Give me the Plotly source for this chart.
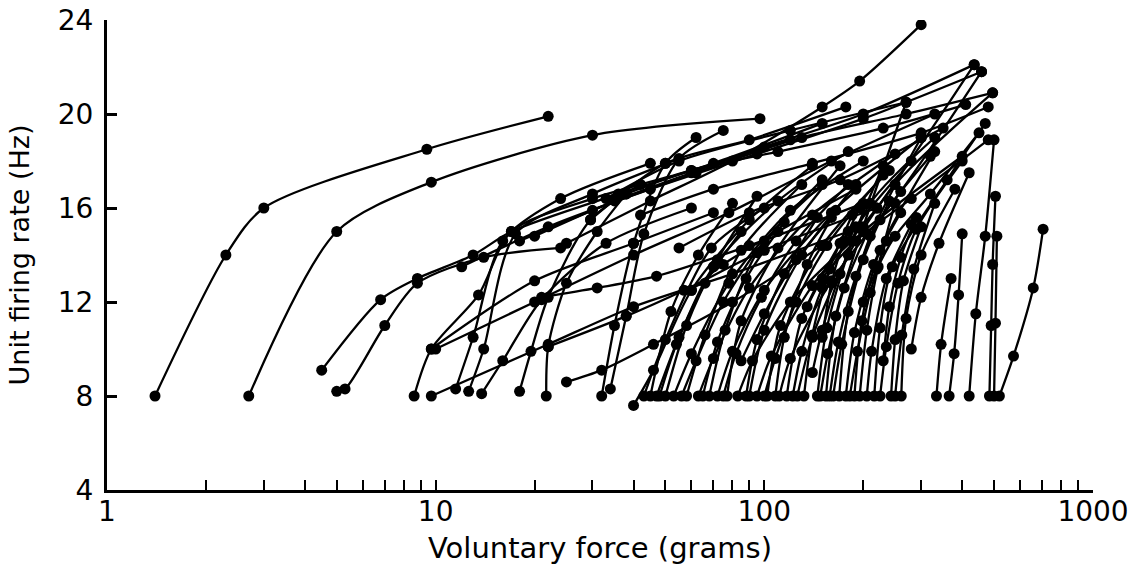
import plotly.graph_objects as go

# Each motor unit: voluntary force (g) and firing rate (Hz) at recruitment and during increasing force
left_units_force = [
    [1.4, 2.3, 3.0, 9.4, 22],
    [2.7, 5.0, 9.7, 30, 97],
    [4.5, 6.8, 8.8, 13, 17, 36, 70, 150],
    [5.0, 5.3, 7.0, 8.8, 14, 24],
    [8.6, 9.7, 13.5, 17, 30, 60, 120],
    [9.7, 22, 40, 80, 180],
    [9.7, 20, 40, 70],
    [11.5, 13, 16, 24, 45],
    [12.6, 14, 17.5, 30, 55],
    [13.8, 16, 21, 33, 60],
    [18, 19.5, 22, 29.6, 42],
    [21.7, 22, 25, 31, 38],
    [25, 32, 46, 80, 150],
    [22, 38, 57, 100, 220],
    [21, 31, 47, 90, 200],
]
left_units_rate = [
    [8, 14, 16, 18.5, 19.9],
    [8, 15, 17.1, 19.1, 19.8],
    [9.1, 12.1, 13.0, 14.0, 15.0, 16.6, 17.9, 19.6],
    [8.2, 8.3, 11.0, 12.8, 13.9, 14.3],
    [8.0, 10.0, 12.3, 15.0, 16.4, 17.6, 18.9],
    [8.0, 10.2, 11.8, 13.2, 15.0],
    [10.0, 12.9, 14.5, 15.8],
    [8.3, 10.5, 14.6, 16.4, 17.9],
    [8.2, 10.0, 14.9, 16.6, 18.1],
    [8.1, 9.5, 12.1, 14.5, 16.0],
    [8.2, 9.9, 12.2, 15.5, 17.0],
    [8.0, 10.1, 12.8, 15.0, 16.6],
    [8.6, 9.1, 10.2, 12.0, 14.4],
    [10.1, 11.4, 12.5, 14.2, 16.0],
    [12.2, 12.6, 13.1, 14.4, 16.2],
]

upper_units_force = [
    [25, 45, 80, 150, 195, 300],
    [20, 35, 60, 100, 200, 435],
    [33, 55, 120, 270],
    [12, 22, 45, 95, 200, 458],
    [18, 30, 62, 130, 270, 495],
    [10, 20, 40, 78, 160, 330],
    [29.6, 50, 90, 177],
    [38, 60, 110, 230, 410],
    [42, 70, 140, 300, 480],
    [55, 90, 170, 350],
]
upper_units_rate = [
    [14.5, 16.3, 18.0, 20.3, 21.4, 23.8],
    [14.8, 16.3, 17.5, 18.6, 20.0, 22.1],
    [16.4, 18.0, 19.3, 20.5],
    [13.5, 15.2, 16.8, 18.3, 19.8, 21.8],
    [14.6, 15.9, 17.5, 19.0, 20.0, 20.9],
    [10.0, 12.0, 14.0, 15.8, 18.0, 20.0],
    [15.5, 17.9, 18.9, 20.3],
    [16.6, 17.6, 18.4, 19.4, 20.4],
    [15.7, 16.8, 17.9, 19.2, 20.3],
    [14.3, 15.8, 17.2, 19.4],
]

middle_units_force = [
    [32, 35, 40, 50, 62],
    [34, 38, 43, 55, 75],
    [40, 46, 60, 90, 140],
    [43, 50, 69, 100],
    [45, 52, 63, 80],
    [47, 55, 70, 110, 180],
    [50, 58, 72, 95],
    [53, 60, 78, 120, 200],
    [58, 66, 85, 130],
    [63, 70, 90, 140, 250],
    [68, 76, 95, 150],
    [72, 80, 100, 160, 300],
    [77, 85, 110, 170],
    [83, 92, 120, 200, 400],
    [90, 100, 130, 190],
    [95, 105, 140, 220, 435],
    [102, 112, 150, 240],
    [111, 120, 160, 260, 458],
    [117, 130, 170],
    [60, 75, 110, 190],
    [85, 100, 125, 160],
    [48, 54, 66, 85],
    [56, 62, 75, 100, 150],
    [65, 72, 88, 115],
    [75, 82, 98, 125, 180],
    [88, 95, 115, 145],
    [100, 108, 125, 155, 230],
    [108, 115, 135, 165],
]
middle_units_rate = [
    [8.0, 11.0, 14.5, 17.9, 19.0],
    [8.3, 11.4, 14.9, 18.1, 19.3],
    [7.6, 9.1, 12.5, 15.5, 17.8],
    [8.0, 10.4, 14.3, 16.0],
    [8.0, 11.6, 14.0, 16.2],
    [8.0, 10.5, 13.5, 16.3, 18.4],
    [8.0, 11.0, 13.8, 16.5],
    [8.0, 9.8, 12.8, 15.9, 18.0],
    [8.0, 10.6, 14.2, 17.0],
    [8.0, 9.6, 12.6, 15.7, 18.3],
    [8.0, 10.8, 14.1, 17.2],
    [8.0, 9.9, 12.5, 15.8, 19.0],
    [8.0, 11.2, 14.3, 17.8],
    [8.0, 9.5, 12.0, 15.0, 18.2],
    [8.0, 10.8, 14.0, 17.0],
    [8.0, 9.7, 12.7, 16.0, 22.1],
    [8.0, 11.0, 14.4, 17.6],
    [8.0, 9.6, 12.9, 16.7, 21.8],
    [8.0, 11.3, 14.5],
    [12.5, 13.6, 15.0, 16.8],
    [9.5, 11.5, 13.8, 15.6],
    [8.0, 10.2, 12.8, 15.0],
    [8.0, 9.5, 12.0, 14.6, 17.0],
    [8.0, 10.3, 13.0, 15.4],
    [8.0, 9.8, 12.2, 14.6, 17.0],
    [8.0, 10.4, 13.2, 15.6],
    [8.0, 9.6, 12.0, 14.4, 17.4],
    [8.0, 10.5, 13.6, 15.9],
]

right_units_force = [
    [126, 140, 180, 250, 495],
    [145, 155, 185, 230],
    [154, 165, 200, 270],
    [162, 172, 200, 240],
    [169, 180, 210, 300],
    [177, 188, 215, 260],
    [188, 198, 225, 330],
    [205, 212, 235, 280],
    [216, 225, 245, 360, 470],
    [243, 250, 265, 300],
    [261, 270, 300, 380],
    [334, 345, 370],
    [365, 378, 390, 400],
    [484, 490, 495, 505],
    [500, 505, 510],
    [519, 573, 658, 705],
    [420, 440, 470, 500],
    [150, 160, 175, 195],
    [140, 150, 170, 210, 330],
    [200, 220, 250, 320, 450],
    [230, 240, 260, 290],
    [280, 300, 340, 420],
    [135, 150, 190, 280, 480],
    [122, 130, 150, 190, 280],
    [132, 140, 158, 185],
    [148, 156, 175, 205],
    [158, 168, 190, 225, 320],
    [182, 192, 210, 235],
    [195, 205, 222, 250],
    [225, 235, 255, 290, 400],
    [250, 262, 285, 330],
]
right_units_rate = [
    [8.0, 10.5, 14.0, 17.0, 20.9],
    [8.0, 10.9, 14.6, 17.8],
    [8.0, 11.4, 15.2, 20.5],
    [8.0, 10.2, 13.8, 16.3],
    [8.0, 11.6, 14.8, 19.0],
    [8.0, 10.7, 13.6, 15.8],
    [8.0, 11.2, 14.2, 18.4],
    [8.0, 9.9, 13.0, 15.3],
    [8.0, 10.9, 13.5, 17.2, 19.6],
    [8.0, 10.4, 12.9, 15.2],
    [8.0, 11.3, 14.0, 16.8],
    [8.0, 10.2, 13.0],
    [8.0, 9.8, 12.3, 14.9],
    [8.0, 11.0, 13.6, 16.5],
    [8.0, 11.1, 14.8],
    [8.0, 9.7, 12.6, 15.1],
    [8.0, 11.5, 14.8, 18.9],
    [10.5, 12.8, 14.6, 16.0],
    [9.0, 10.8, 13.2, 16.2, 19.0],
    [12.0, 13.4, 14.8, 16.6, 19.2],
    [9.5, 11.8, 13.9, 15.6],
    [10.0, 12.2, 14.5, 17.5],
    [11.8, 13.0, 14.6, 16.4, 18.9],
    [8.0, 9.9, 12.6, 15.2, 18.0],
    [8.0, 10.6, 13.4, 15.7],
    [8.0, 9.8, 12.6, 14.9],
    [8.0, 10.3, 13.1, 15.5, 18.2],
    [8.0, 9.9, 12.4, 14.6],
    [8.0, 10.8, 13.5, 16.2],
    [8.0, 10.1, 12.8, 15.1, 18.0],
    [8.0, 10.6, 13.4, 16.2],
]

x_tick_values = [m * 10 ** e for e in range(3) for m in range(1, 10)] + [1000]
x_tick_labels = ["1", "10", "100", "1000"]
y_tick_values = [4, 8, 12, 16, 20, 24]

all_force = left_units_force + upper_units_force + middle_units_force + right_units_force
all_rate = left_units_rate + upper_units_rate + middle_units_rate + right_units_rate

fig = go.Figure()
for fx, ry in zip(all_force, all_rate):
    fig.add_trace(go.Scatter(
        x=fx, y=ry, mode="lines+markers",
        line=dict(color="black", width=2.3, shape="spline", smoothing=0.8),
        marker=dict(color="black", size=11),
        showlegend=False, hoverinfo="skip",
    ))

ticktext = [str(v) if str(v) in x_tick_labels else "" for v in x_tick_values]

font_family = "DejaVu Sans, Liberation Sans, Arial, sans-serif"
fig.update_layout(
    width=1139, height=568,
    margin=dict(l=107, r=46, t=20, b=78),
    paper_bgcolor="white", plot_bgcolor="white",
    font=dict(family=font_family, size=28, color="black"),
    xaxis=dict(
        type="log", range=[0, 3], automargin=False,
        tickvals=x_tick_values, ticktext=ticktext,
        ticks="inside", ticklen=10, tickwidth=2, tickcolor="black",
        showline=True, linewidth=3, linecolor="black",
        showgrid=False, zeroline=False,
        ticklabelstandoff=-6,
        title=dict(text="Voluntary force (grams)", font=dict(size=29), standoff=12),
    ),
    yaxis=dict(
        range=[4, 24], automargin=False,
        tickvals=y_tick_values,
        ticks="inside", ticklen=10, tickwidth=2.5, tickcolor="black",
        showline=True, linewidth=3, linecolor="black",
        showgrid=False, zeroline=False,
        ticklabelstandoff=5,
        title=dict(text="Unit firing rate (Hz)", font=dict(size=27), standoff=21),
    ),
)

fig.write_html("out.html")
